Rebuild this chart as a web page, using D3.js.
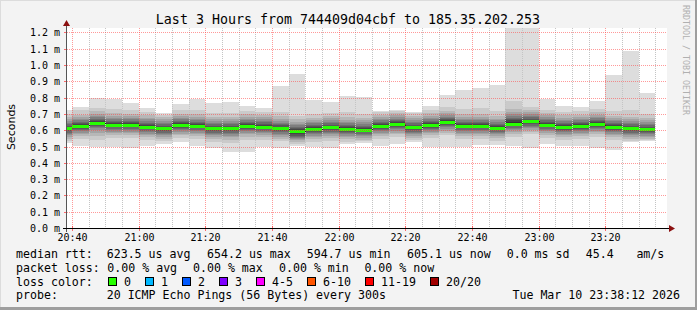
<!DOCTYPE html>
<html>
<head>
<meta charset="utf-8">
<script src="https://cdn.jsdelivr.net/npm/d3@7"></script>
<style>
  html, body { margin: 0; padding: 0; background: #f3f3f3; }
  svg { display: block; }
  text { font-family: "DejaVu Sans Mono", monospace; fill: #000; }
</style>
</head>
<body>
<svg id="chart" width="697" height="310"></svg>
<script>
// 5 minute steps (start of each step), 20 sorted pings per step, in ms
const stepStarts = ["20:35","20:40","20:45","20:50","20:55","21:00","21:05","21:10","21:15","21:20",
  "21:25","21:30","21:35","21:40","21:45","21:50","21:55","22:00","22:05","22:10",
  "22:15","22:20","22:25","22:30","22:35","22:40","22:45","22:50","22:55","23:00",
  "23:05","23:10","23:15","23:20","23:25","23:30"]

const medianMs = [0.611,0.626,0.646,0.634,0.634,0.622,0.611,0.632,0.628,0.611,
  0.611,0.627,0.623,0.613,0.595,0.608,0.617,0.608,0.604,0.626,
  0.638,0.617,0.633,0.650,0.628,0.628,0.616,0.641,0.654,0.635,
  0.621,0.626,0.639,0.620,0.611,0.605]

const pingsMs = [
  [.523,.531,.547,.559,.569,.578,.586,.594,.601,.607,.615,.621,.628,.636,.645,.655,.667,.681,.701,.726],
  [.501,.546,.562,.574,.584,.593,.601,.609,.616,.622,.630,.636,.643,.651,.660,.670,.682,.696,.722,.740],
  [.500,.538,.562,.586,.601,.611,.620,.629,.636,.642,.650,.656,.663,.671,.680,.690,.702,.716,.736,.800],
  [.500,.554,.570,.582,.592,.601,.609,.617,.624,.630,.638,.644,.651,.659,.668,.678,.690,.704,.730,.789],
  [.489,.551,.568,.581,.592,.601,.609,.617,.624,.630,.638,.644,.651,.659,.668,.678,.689,.702,.722,.770],
  [.504,.542,.558,.570,.580,.589,.597,.605,.612,.618,.626,.632,.639,.647,.656,.666,.678,.692,.712,.737],
  [.514,.531,.547,.559,.569,.578,.586,.594,.601,.607,.615,.621,.628,.636,.645,.655,.667,.680,.694,.704],
  [.529,.552,.568,.580,.590,.599,.607,.615,.622,.628,.636,.642,.649,.657,.666,.676,.688,.702,.722,.763],
  [.505,.548,.564,.576,.586,.595,.603,.611,.618,.624,.632,.638,.645,.653,.662,.672,.684,.698,.724,.789],
  [.488,.529,.546,.558,.568,.578,.586,.594,.601,.607,.615,.621,.628,.636,.645,.655,.667,.681,.705,.769],
  [.469,.520,.542,.556,.567,.577,.586,.594,.601,.607,.615,.621,.628,.636,.645,.655,.667,.682,.708,.771],
  [.469,.540,.560,.574,.585,.594,.602,.610,.617,.623,.631,.637,.644,.652,.661,.671,.683,.697,.717,.746],
  [.500,.543,.559,.571,.581,.590,.598,.606,.613,.619,.627,.633,.640,.648,.657,.667,.679,.693,.713,.737],
  [.489,.533,.549,.561,.571,.580,.588,.596,.603,.609,.617,.623,.630,.638,.647,.657,.669,.685,.715,.873],
  [.502,.515,.528,.538,.546,.553,.560,.566,.575,.588,.600,.606,.613,.621,.630,.640,.652,.668,.690,.947],
  [.500,.528,.544,.556,.566,.575,.583,.591,.598,.604,.612,.618,.625,.633,.642,.652,.664,.678,.698,.784],
  [.489,.537,.553,.565,.575,.584,.592,.600,.607,.613,.621,.627,.634,.642,.651,.661,.673,.687,.707,.776],
  [.518,.530,.544,.556,.566,.575,.583,.591,.598,.604,.612,.618,.625,.633,.642,.652,.664,.680,.715,.812],
  [.524,.532,.542,.552,.562,.571,.579,.587,.594,.600,.608,.614,.621,.629,.638,.648,.660,.676,.700,.807],
  [.504,.546,.562,.574,.584,.593,.601,.609,.616,.622,.630,.636,.643,.651,.660,.670,.682,.696,.712,.720],
  [.513,.558,.574,.586,.596,.605,.613,.621,.628,.634,.642,.648,.655,.663,.672,.682,.694,.706,.718,.726],
  [.529,.540,.553,.565,.575,.584,.592,.600,.607,.613,.621,.627,.634,.642,.651,.661,.673,.687,.703,.712],
  [.500,.553,.569,.581,.591,.600,.608,.616,.623,.629,.637,.643,.650,.658,.667,.677,.689,.703,.723,.750],
  [.500,.570,.586,.598,.608,.617,.625,.633,.640,.646,.654,.660,.667,.675,.684,.694,.706,.720,.742,.819],
  [.500,.548,.564,.576,.586,.595,.603,.611,.618,.624,.632,.638,.645,.653,.662,.672,.684,.700,.730,.849],
  [.508,.548,.564,.576,.586,.595,.603,.611,.618,.624,.632,.638,.645,.653,.662,.672,.684,.702,.735,.861],
  [.508,.536,.552,.564,.574,.583,.591,.599,.606,.612,.620,.626,.633,.641,.650,.660,.672,.688,.716,.879],
  [.502,.561,.577,.589,.599,.608,.616,.624,.631,.637,.650,.660,.668,.676,.686,.697,.710,.730,.777,1.400],
  [.494,.574,.590,.602,.612,.621,.629,.637,.644,.650,.658,.664,.671,.679,.688,.698,.710,.724,.742,1.300],
  [.517,.555,.571,.583,.593,.602,.610,.618,.625,.631,.639,.645,.652,.660,.669,.679,.691,.705,.725,.794],
  [.503,.541,.557,.569,.579,.588,.596,.604,.611,.617,.625,.631,.638,.646,.655,.665,.677,.691,.711,.750],
  [.502,.546,.562,.574,.584,.593,.601,.609,.616,.622,.630,.636,.643,.651,.660,.670,.682,.696,.716,.743],
  [.488,.559,.575,.587,.597,.606,.614,.622,.629,.635,.643,.649,.656,.664,.673,.683,.695,.709,.729,.782],
  [.476,.540,.556,.568,.578,.587,.595,.603,.610,.616,.624,.630,.637,.645,.654,.664,.676,.690,.716,.940],
  [.525,.534,.547,.559,.569,.578,.586,.594,.601,.607,.615,.621,.628,.636,.645,.655,.667,.681,.726,1.084],
  [.534,.540,.549,.558,.567,.575,.582,.589,.595,.601,.609,.615,.622,.630,.639,.649,.661,.675,.700,.831]
]

const yTicks = [0, 0.1, 0.2, 0.3, 0.4, 0.5, 0.6, 0.7, 0.8, 0.9, 1.0, 1.1, 1.2]
const xTickLabels = ["20:40","21:00","21:20","21:40","22:00","22:20","22:40","23:00","23:20"]

const rttItems = [["623.5 us avg", 106.7], ["654.2 us max", 207], ["594.7 us min", 306.7],
  ["605.1 us now", 407], ["0.0 ms sd", 506.7], ["45.4", 585.8], ["am/s", 636.4]]
const lossItems = [["0.00 % avg", 107.3], ["0.00 % max", 193], ["0.00 % min", 279], ["0.00 % now", 364.4]]
const lossLabels = ["0", "1", "2", "3", "4-5", "6-10", "11-19", "20/20"]
const lossBoxX = [108.5, 145.5, 182.5, 219.5, 256.5, 307.5, 365.5, 430.5]
const lossColors = ["#26ff00", "#00b8ff", "#0059ff", "#7e00ff", "#ff00ff", "#ff5500", "#ff0000", "#a10000"]

const W = 697, H = 310
const plot = { left: 67, right: 667, top: 28, bottom: 228 }
const parseTime = d3.timeParse("%Y-%m-%d %H:%M:%S")
const day = "2026-03-10 "

const svg = d3.select("#chart")

// canvas + frame
svg.append("rect").attr("width", W).attr("height", H).attr("fill", "#f3f3f3")
svg.append("rect").attr("x", 0).attr("y", 0).attr("width", W).attr("height", 1).attr("fill", "#dcdcdc")
svg.append("rect").attr("x", 0).attr("y", 0).attr("width", 1).attr("height", H).attr("fill", "#dcdcdc")
svg.append("rect").attr("x", W - 2).attr("y", 0).attr("width", 2).attr("height", H).attr("fill", "#9e9e9e")
svg.append("rect").attr("x", 0).attr("y", H - 3).attr("width", W).attr("height", 3).attr("fill", "#9e9e9e")

svg.append("rect")
  .attr("x", plot.left).attr("y", plot.top)
  .attr("width", plot.right - plot.left).attr("height", plot.bottom - plot.top)
  .attr("fill", "#fff")

const x = d3.scaleTime()
  .domain([parseTime(day + "20:38:30"), parseTime(day + "23:38:30")])
  .range([plot.left, plot.right])
const y = d3.scaleLinear().domain([0, 1.2276]).range([plot.bottom, plot.top])

svg.append("defs").append("clipPath").attr("id", "plotclip")
  .append("rect")
  .attr("x", plot.left).attr("y", plot.top)
  .attr("width", plot.right - plot.left).attr("height", plot.bottom - plot.top)

const steps = stepStarts.map((s, i) => {
  const t0 = parseTime(day + s + ":00")
  return { t0, t1: d3.timeMinute.offset(t0, 5), pings: pingsMs[i], median: medianMs[i] }
})

// smoke: nested layers p[i]..p[19-i], lighter outside
const half = 10
const smokeColors = d3.range(half).map(i => {
  const c = Math.floor(190 / half * (half - 1 - i)) + 50
  return d3.rgb(c, c, c).formatHex()
})

const g = svg.append("g").attr("clip-path", "url(#plotclip)").attr("shape-rendering", "crispEdges")

steps.forEach(d => {
  const x0 = Math.round(x(d.t0)), x1 = Math.round(x(d.t1))
  smokeColors.forEach((col, i) => {
    const top = Math.round(y(d.pings[19 - i])), bot = Math.round(y(d.pings[i]))
    g.append("rect")
      .attr("x", x0).attr("width", x1 - x0)
      .attr("y", top).attr("height", Math.max(1, bot - top))
      .attr("fill", col)
  })
})

// median: thin dark step line, then green band (0 loss)
const stepLine = d3.line()
  .x(p => Math.round(x(p[0])))
  .y(p => Math.round(y(p[1])) + 0.5)
  .curve(d3.curveStepAfter)
const stepPts = steps.map(d => [d.t0, d.median])
stepPts.push([steps[steps.length - 1].t1, steps[steps.length - 1].median])
g.append("path").datum(stepPts).attr("d", stepLine)
  .attr("fill", "none").attr("stroke", "#202020").attr("stroke-width", 1)

g.selectAll("rect.median").data(steps).join("rect")
  .attr("class", "median")
  .attr("x", d => Math.round(x(d.t0)))
  .attr("width", d => Math.round(x(d.t1)) - Math.round(x(d.t0)))
  .attr("y", d => Math.round(y(d.median)) - 1)
  .attr("height", 3)
  .attr("fill", lossColors[0])

// grid (drawn on top like rrdtool)
const grid = svg.append("g").attr("shape-rendering", "crispEdges")
const majorTimes = xTickLabels.map(s => parseTime(day + s + ":00"))
const majorSet = new Set(majorTimes.map(t => +t))
const minorTimes = x.ticks(d3.timeMinute.every(5)).filter(t => !majorSet.has(+t))

grid.selectAll("line.minor").data(minorTimes).join("line")
  .attr("x1", t => Math.round(x(t)) + 0.5).attr("x2", t => Math.round(x(t)) + 0.5)
  .attr("y1", plot.top).attr("y2", plot.bottom)
  .attr("stroke", "#c4c4c4").attr("stroke-dasharray", "1,1")

grid.selectAll("line.hmajor").data(yTicks.slice(1)).join("line")
  .attr("x1", plot.left).attr("x2", plot.right)
  .attr("y1", v => Math.round(y(v)) + 0.5).attr("y2", v => Math.round(y(v)) + 0.5)
  .attr("stroke", "rgba(255,70,70,0.55)").attr("stroke-dasharray", "1,1")

grid.selectAll("line.vmajor").data(majorTimes).join("line")
  .attr("x1", t => Math.round(x(t)) + 0.5).attr("x2", t => Math.round(x(t)) + 0.5)
  .attr("y1", plot.top).attr("y2", plot.bottom)
  .attr("stroke", "rgba(255,70,70,0.55)").attr("stroke-dasharray", "1,1")

// tick marks
grid.selectAll("line.mtick").data(majorTimes).join("line")
  .attr("x1", t => Math.round(x(t)) + 0.5).attr("x2", t => Math.round(x(t)) + 0.5)
  .attr("y1", plot.bottom - 2).attr("y2", plot.bottom + 3)
  .attr("stroke", "rgba(255,70,70,0.8)")
grid.selectAll("line.ytick").data(yTicks).join("line")
  .attr("x1", plot.left - 3).attr("x2", plot.left)
  .attr("y1", v => Math.round(y(v)) + 0.5).attr("y2", v => Math.round(y(v)) + 0.5)
  .attr("stroke", "rgba(255,70,70,0.8)")

// axes with arrows
const axis = svg.append("g").attr("shape-rendering", "crispEdges")
axis.append("line").attr("x1", 66.5).attr("x2", 66.5).attr("y1", 232).attr("y2", 25)
  .attr("stroke", "#555")
axis.append("line").attr("x1", 63).attr("x2", 670).attr("y1", plot.bottom + 0.5).attr("y2", plot.bottom + 0.5)
  .attr("stroke", "#000")
svg.append("path").attr("d", "M66.5,20 L63,26 L70,26 Z").attr("fill", "#8b1010")
svg.append("path").attr("d", "M675,228.5 L669,225 L669,232 Z").attr("fill", "#8b1010")

// y labels
svg.append("g").selectAll("text").data(yTicks).join("text")
  .attr("x", 60).attr("y", v => Math.round(y(v)) + 4)
  .attr("text-anchor", "end").attr("font-size", "10px")
  .text(v => v.toFixed(1) + " m")

// x labels
svg.append("g").selectAll("text").data(majorTimes).join("text")
  .attr("x", t => Math.round(x(t)) + 0.5).attr("y", 240.5)
  .attr("text-anchor", "middle").attr("font-size", "10px")
  .text(d3.timeFormat("%H:%M"))

// title and side texts
svg.append("text").attr("x", 348).attr("y", 24).attr("text-anchor", "middle")
  .attr("font-size", "13.3px").text("Last 3 Hours from 744409d04cbf to 185.35.202.253")

svg.append("text").attr("transform", "translate(15,127) rotate(-90)")
  .attr("text-anchor", "middle").attr("font-size", "11px")
  .style("font-family", "'DejaVu Sans', sans-serif")
  .text("Seconds")

svg.append("text").attr("transform", "translate(683,5) rotate(90)")
  .attr("font-size", "8.3px").style("fill", "#b0b0b0")
  .text("RRDTOOL / TOBI OETIKER")

// legend
const lg = svg.append("g").attr("font-size", "11.6px")
const rows = [258, 272, 285.5, 299]
lg.append("text").attr("x", 16).attr("y", rows[0]).text("median rtt:")
lg.selectAll("text.rtt").data(rttItems).join("text").attr("class", "rtt")
  .attr("x", d => d[1]).attr("y", rows[0]).text(d => d[0])

lg.append("text").attr("x", 16).attr("y", rows[1]).text("packet loss:")
lg.selectAll("text.loss").data(lossItems).join("text").attr("class", "loss")
  .attr("x", d => d[1]).attr("y", rows[1]).text(d => d[0])

lg.append("text").attr("x", 16).attr("y", rows[2]).text("loss color:")
lg.selectAll("rect.lc").data(lossLabels).join("rect").attr("class", "lc")
  .attr("x", (d, i) => lossBoxX[i]).attr("y", 277.5)
  .attr("width", 8).attr("height", 8)
  .attr("fill", (d, i) => lossColors[i]).attr("stroke", "#000").attr("stroke-width", 1)
  .attr("shape-rendering", "crispEdges")
lg.selectAll("text.lcl").data(lossLabels).join("text").attr("class", "lcl")
  .attr("x", (d, i) => lossBoxX[i] + 15.5).attr("y", rows[2]).text(d => d)

lg.append("text").attr("x", 16).attr("y", rows[3]).text("probe:")
lg.append("text").attr("x", 106.7).attr("y", rows[3]).text("20 ICMP Echo Pings (56 Bytes) every 300s")
lg.append("text").attr("x", 680).attr("y", rows[3]).attr("text-anchor", "end").text("Tue Mar 10 23:38:12 2026")
</script>
</body>
</html>
